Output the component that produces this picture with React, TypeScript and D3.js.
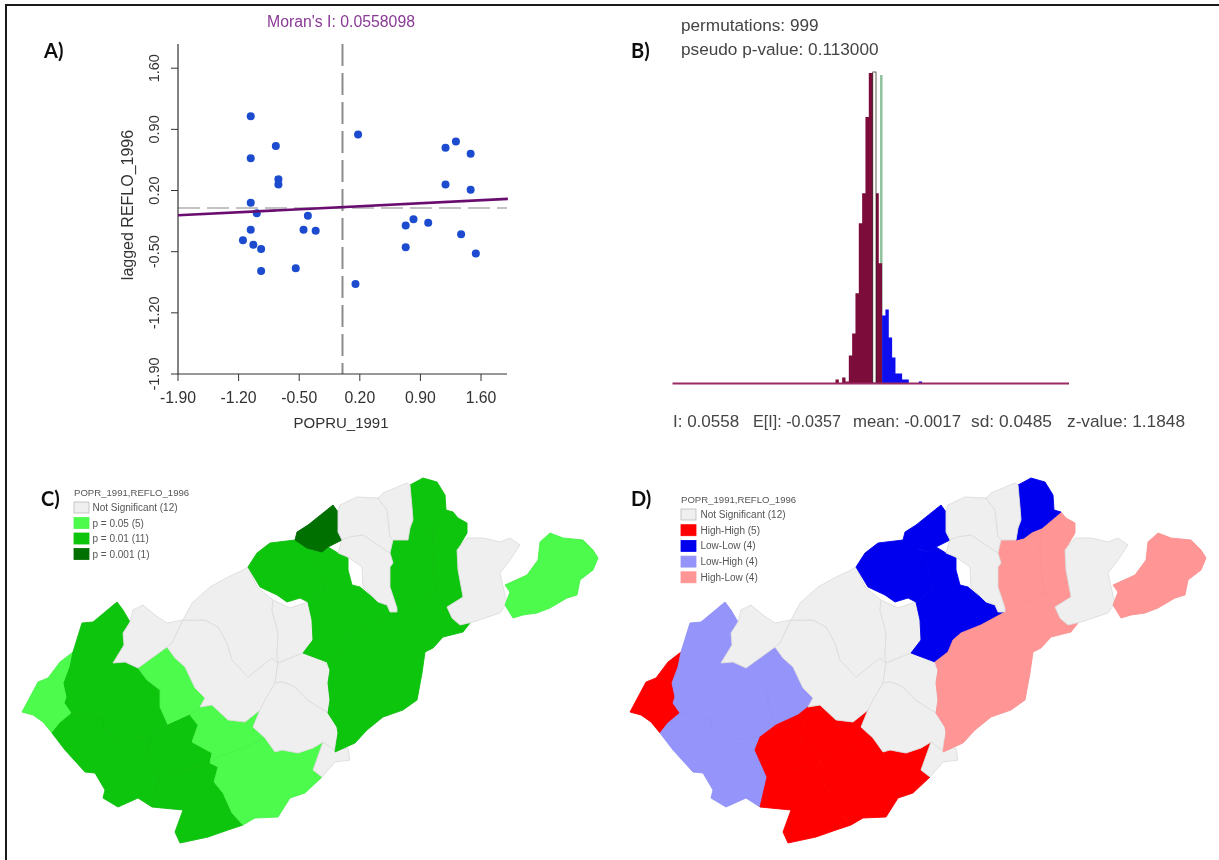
import React from "react";
import * as d3 from "d3";

// ---------- Panel A data ----------
const xTicks = [-1.9, -1.2, -0.5, 0.2, 0.9, 1.6];
const yTicks = [-1.9, -1.2, -0.5, 0.2, 0.9, 1.6];
const popru = [-1.06,-1.06,-0.77,-0.74,-0.74,-1.06,-0.99,-1.06,-1.15,-1.03,-0.94,-0.94,-0.54,-0.45,-0.40,-0.31,0.18,0.15,0.73,0.82,0.99,0.73,1.19,1.31,1.48,1.19,1.48,1.37,1.54];
const lagged = [1.05,0.57,0.71,0.33,0.27,0.06,-0.06,-0.25,-0.37,-0.42,-0.47,-0.72,-0.69,-0.25,-0.09,-0.26,0.84,-0.87,-0.20,-0.13,-0.17,-0.45,0.69,0.76,0.62,0.27,0.21,-0.30,-0.52];
const regX = [-1.9, 1.91];
const regY = [-0.083, 0.104];

// ---------- Panel B data ----------
const darkCounts = [2,0,3,1,14,25,45,80,95,133,155,155,95,60];
const blueCounts = [34,37,23,13,5,5,2,2,0,0,0,1];
const histMax = 155;

// ---------- Map data (traced outlines) ----------
type P = [number, number];
const shapes: P[][] = [
  /* R1 */ [[73,652],[60,662],[48,678],[38,682],[30,697],[22,712],[33,715],[43,722],[52,733],[60,723],[72,713],[65,703],[67,697],[64,683],[70,667]],
  /* A1 */ [[117,602],[123,610],[130,622],[123,633],[124,645],[113,663],[125,662],[138,668],[147,680],[160,690],[160,707],[168,725],[152,737],[117,740],[103,728],[103,718],[72,713],[65,703],[67,697],[64,683],[70,667],[73,652],[82,623],[93,622],[105,612]],
  /* A2 */ [[72,713],[60,723],[52,733],[65,750],[85,772],[95,773],[105,790],[103,798],[118,807],[138,798],[152,807],[159,777],[147,750],[152,737],[117,740],[103,728],[103,718]],
  /* A3 */ [[138,668],[167,647],[175,658],[185,667],[195,688],[205,698],[200,707],[190,715],[168,725],[160,707],[160,690],[147,680]],
  /* S1 */ [[168,725],[190,715],[198,725],[192,742],[212,753],[210,763],[159,777],[147,750],[152,737]],
  /* S2 */ [[159,777],[210,763],[218,767],[214,782],[223,793],[232,813],[243,825],[228,830],[208,837],[180,843],[175,832],[183,810],[152,807]],
  /* S3 */ [[200,707],[212,705],[228,720],[245,722],[260,710],[253,727],[265,738],[245,747],[218,757],[210,763],[212,753],[192,742],[198,725],[190,715]],
  /* S4 */ [[210,763],[218,757],[245,747],[265,738],[275,752],[282,750],[298,753],[313,748],[323,742],[313,770],[322,777],[305,793],[290,798],[278,817],[255,818],[243,825],[232,813],[223,793],[214,782],[218,767]],
  /* G1 */ [[133,610],[143,605],[155,615],[167,623],[183,620],[172,643],[167,647],[138,668],[125,662],[113,663],[124,645],[123,633],[130,622]],
  /* G2 */ [[172,643],[183,620],[205,620],[218,627],[227,643],[232,660],[248,677],[272,658],[278,663],[275,683],[265,700],[260,710],[245,722],[228,720],[212,705],[200,707],[205,698],[195,688],[185,667],[175,658],[167,647]],
  /* G3 */ [[183,620],[192,603],[210,587],[228,577],[243,570],[248,567],[257,587],[273,600],[272,610],[278,633],[277,657],[278,663],[272,658],[248,677],[232,660],[227,643],[218,627],[205,620]],
  /* G4 */ [[273,600],[290,608],[308,602],[312,620],[313,640],[303,653],[278,663],[277,657],[278,633],[272,610]],
  /* G5 */ [[278,663],[303,653],[322,658],[330,670],[328,683],[330,700],[328,713],[307,700],[295,687],[283,682],[275,683]],
  /* G6 */ [[275,683],[283,682],[295,687],[307,700],[328,713],[337,727],[338,733],[334,750],[323,742],[313,748],[298,753],[282,750],[275,752],[265,738],[253,727],[260,710],[265,700]],
  /* G7 */ [[323,742],[334,750],[348,748],[350,760],[335,762],[322,777],[313,770]],
  /* N1a */ [[248,567],[257,553],[270,543],[295,540],[312,550],[320,570],[325,590],[308,602],[300,598],[287,602],[277,595],[260,587]],
  /* N1b */ [[322,552],[328,547],[338,553],[348,558],[348,570],[352,585],[360,587],[378,602],[387,605],[390,612],[397,612],[373,625],[353,633],[345,640],[340,652],[327,662],[303,653],[313,640],[312,620],[308,602],[325,590],[320,570],[312,550]],
  /* DK */ [[297,532],[308,525],[323,513],[333,505],[338,512],[338,532],[342,540],[328,547],[322,552],[307,548],[295,540]],
  /* N2 */ [[327,662],[340,652],[345,640],[353,633],[373,625],[397,612],[413,603],[437,593],[447,607],[452,618],[460,625],[470,623],[463,632],[443,637],[433,648],[425,652],[422,673],[417,700],[403,710],[383,717],[367,730],[355,743],[335,752],[338,733],[337,727],[328,713],[330,700],[328,683],[330,670]],
  /* N3 */ [[393,540],[408,540],[416,538],[424,532],[434,528],[432,550],[435,587],[437,593],[413,603],[397,612],[397,608],[390,587],[390,567],[393,563],[390,553]],
  /* N3b */ [[434,528],[453,512],[458,518],[467,523],[467,533],[457,550],[458,570],[463,597],[447,607],[437,593],[435,587],[432,550]],
  /* N4 */ [[410,485],[423,478],[437,482],[445,495],[446,510],[453,512],[434,528],[424,532],[416,538],[408,540],[410,528],[413,520],[412,507]],
  /* G8 */ [[338,512],[340,505],[357,497],[378,498],[387,510],[390,537],[393,540],[390,553],[385,550],[363,535],[350,537],[342,540],[338,532]],
  /* G9 */ [[378,498],[383,493],[407,483],[410,485],[412,507],[413,520],[410,528],[408,540],[393,540],[390,537],[387,510]],
  /* G10 */ [[342,540],[350,537],[363,535],[385,550],[390,553],[393,563],[390,567],[390,587],[397,608],[397,612],[390,612],[387,605],[378,602],[363,587],[362,567],[348,557],[338,553]],
  /* G11 */ [[457,550],[467,538],[483,538],[500,542],[510,538],[520,545],[510,560],[500,573],[503,587],[507,603],[500,613],[473,622],[460,625],[452,618],[447,607],[463,597],[458,570]],
  /* E1 */ [[550,533],[563,538],[583,540],[593,550],[598,558],[593,570],[580,580],[577,595],[567,598],[550,608],[537,613],[523,615],[513,618],[505,605],[510,592],[505,585],[527,575],[538,560],[540,542]],
];
const significance = [1,2,2,1,2,2,1,1,0,0,0,0,0,0,0,2,2,3,2,2,2,2,0,0,0,0,1];
const cluster = [1,3,3,3,1,1,1,1,0,0,0,0,0,0,0,2,2,2,4,4,4,2,0,0,0,0,4];

const sigColors = ["#efefef", "#4dfb4d", "#0ac50a", "#056f05"];
const clusterColors = ["#efefef", "#ff0000", "#0000ef", "#9494fb", "#ff9595"];
const sigLabels = ["Not Significant (12)", "p = 0.05 (5)", "p = 0.01 (11)", "p = 0.001 (1)"];
const clusterLabels = ["Not Significant (12)", "High-High (5)", "Low-Low (4)", "Low-High (4)", "High-Low (4)"];
const legendTitle = "POPR_1991,REFLO_1996";

const FONT = "'Liberation Sans', Arial, sans-serif";
const LABELFONT = "Lato, 'Open Sans', sans-serif";

function MapPanel({ colors, assign, offset, labels, legendX, legendY, textX, rowStep, titleY, edge }: any) {
  const sx = d3.scaleLinear().domain([0, 610]).range([offset, offset + 610]);
  const sy = d3.scaleLinear().domain([460, 860]).range([460, 860]);
  const projection = d3.geoTransform({
    point(x: number, y: number) {
      (this as any).stream.point(sx(x), sy(y));
    },
  });
  const path = d3.geoPath(projection as any);
  return (
    <g>
      {shapes.map((ring, i) => {
        const fill = colors[assign[i]];
        const stroke = assign[i] === 0 ? "#dcdcdc" : d3.color(fill)!.darker(edge).formatHex();
        const feature: any = { type: "Polygon", coordinates: [[...ring, ring[0]]] };
        return <path key={i} d={path(feature) || ""} fill={fill} stroke={stroke} strokeWidth={0.9} strokeLinejoin="round" />;
      })}
      <text x={legendX} y={titleY} fontFamily={FONT} fontSize={9.6} fill="#555">{legendTitle}</text>
      {labels.map((l: string, i: number) => (
        <g key={l}>
          <rect x={legendX} y={legendY + i * rowStep} width={15} height={11} fill={colors[i]} stroke={i === 0 ? "#bbb" : colors[i]} strokeWidth={0.8} />
          <text x={textX} y={legendY + i * rowStep + 9} fontFamily={FONT} fontSize={10} fill="#555">{l}</text>
        </g>
      ))}
    </g>
  );
}

export default function App() {
  // Panel A scales
  const x = d3.scaleLinear().domain([-1.9, 1.9]).range([178, 507]);
  const y = d3.scaleLinear().domain([-1.9, 1.9]).range([374, 42]);
  const reg = d3.line<number>().x((v) => x(v)).y((_, i) => y(regY[i]))(regX) || "";

  // Panel B scales
  const bx = d3.scaleLinear().domain([0, darkCounts.length + blueCounts.length]).range([835.5, 835.5 + (darkCounts.length + blueCounts.length) * 3.33]);
  const by = d3.scaleLinear().domain([0, histMax]).range([383.5, 73]);
  const bx0 = 672.5, bx1 = 1069;
  const area = d3.area<number>().x((_, i) => i).y0(by(0)).y1((c) => by(c)).curve(d3.curveStepAfter);
  const stepArea = (counts: number[], start: number) =>
    area.x((_, i) => bx(start + i))([...counts, counts[counts.length - 1]]) || "";

  return (
    <svg width={1219} height={860} style={{ position: "absolute", left: 0, top: 0, display: "block", background: "#fff" }}>
      <defs>
        <filter id="soft" x="-2%" y="-2%" width="104%" height="104%">
          <feGaussianBlur stdDeviation="0.55" />
        </filter>
      </defs>
      <path d="M1219 5 H6 V860" fill="none" stroke="#1a1a1a" strokeWidth={2} />
      <g filter="url(#soft)">
        {/* Panel A */}
        <text x={341} y={26.5} textAnchor="middle" fontFamily={FONT} fontSize={15.8} fill="#8a3a96">Moran's I: 0.0558098</text>
        <text x={44} y={58} fontFamily={LABELFONT} fontWeight={700} fontSize={20} fill="#111">A)</text>
        <line x1={x(0)} x2={x(0)} y1={44} y2={374} stroke="#8c8c8c" strokeWidth={2} strokeDasharray="22 7" />
        <line x1={x(-1.9)} x2={x(1.9)} y1={y(0)} y2={y(0)} stroke="#888" strokeWidth={1.2} strokeDasharray="22 7" />
        <path d={`M178 44 V374 H507`} fill="none" stroke="#333" strokeWidth={1.2} />
        {xTicks.map((t) => (
          <g key={t}>
            <line x1={x(t)} x2={x(t)} y1={374} y2={381} stroke="#333" />
            <text x={x(t)} y={402.5} textAnchor="middle" fontFamily={FONT} fontSize={15.8} fill="#333">{t.toFixed(2)}</text>
          </g>
        ))}
        {yTicks.map((t) => (
          <g key={t}>
            <line x1={171} x2={178} y1={y(t)} y2={y(t)} stroke="#333" />
            <text transform={`translate(159,${y(t)}) rotate(-90)`} textAnchor="middle" fontFamily={FONT} fontSize={14.5} fill="#333">{t.toFixed(2)}</text>
          </g>
        ))}
        <text x={341} y={428} textAnchor="middle" fontFamily={FONT} fontSize={15} fill="#333">POPRU_1991</text>
        <text transform="translate(133,205) rotate(-90)" textAnchor="middle" fontFamily={FONT} fontSize={16} fill="#333">lagged REFLO_1996</text>
        {popru.map((v, i) => (
          <circle key={i} cx={x(v)} cy={y(lagged[i])} r={4} fill="#1a4ccf" />
        ))}
        <path d={reg} fill="none" stroke="#6b0f70" strokeWidth={2.6} />

        {/* Panel B */}
        <text x={681} y={31} fontFamily={FONT} fontSize={17.2} fill="#444">permutations: 999</text>
        <text x={681} y={55} fontFamily={FONT} fontSize={17.2} fill="#444">pseudo p-value: 0.113000</text>
        <text x={631} y={58} fontFamily={LABELFONT} fontWeight={700} fontSize={20} fill="#111">B)</text>
        <line x1={881.3} x2={881.3} y1={75} y2={383} stroke="#8fc29c" strokeWidth={2.5} />
        <path d={stepArea(darkCounts, 0)} fill="#7c0a3a" />
        <path d={stepArea(blueCounts, darkCounts.length)} fill="#0a0af0" />
        <rect x={872.8} y={72} width={3.2} height={311} fill="#fffef6" stroke="#222" strokeWidth={0.7} />
        <line x1={bx0} x2={bx1} y1={383.5} y2={383.5} stroke="#9a2a62" strokeWidth={1.8} />
        <text x={673} y={426.5} fontFamily={FONT} fontSize={17} fill="#444">I: 0.0558</text>
        <text x={753} y={426.5} fontFamily={FONT} fontSize={17} fill="#444" textLength={88} lengthAdjust="spacingAndGlyphs">E[I]: -0.0357</text>
        <text x={853} y={426.5} fontFamily={FONT} fontSize={17} fill="#444" textLength={108} lengthAdjust="spacingAndGlyphs">mean: -0.0017</text>
        <text x={971} y={426.5} fontFamily={FONT} fontSize={17} fill="#444" textLength={81} lengthAdjust="spacingAndGlyphs">sd: 0.0485</text>
        <text x={1067} y={426.5} fontFamily={FONT} fontSize={17} fill="#444" textLength={118} lengthAdjust="spacingAndGlyphs">z-value: 1.1848</text>

        {/* Panel C */}
        <text x={41} y={506} fontFamily={LABELFONT} fontWeight={700} fontSize={20} fill="#111">C)</text>
        <MapPanel colors={sigColors} assign={significance} offset={0} labels={sigLabels} legendX={74} legendY={502} textX={92.5} rowStep={15.5} titleY={496} edge={0.1} />

        {/* Panel D */}
        <text x={631} y={506} fontFamily={LABELFONT} fontWeight={700} fontSize={20} fill="#111">D)</text>
        <MapPanel colors={clusterColors} assign={cluster} offset={608} labels={clusterLabels} legendX={681} legendY={509} textX={700.5} rowStep={15.7} titleY={503} edge={0.05} />
      </g>
    </svg>
  );
}
